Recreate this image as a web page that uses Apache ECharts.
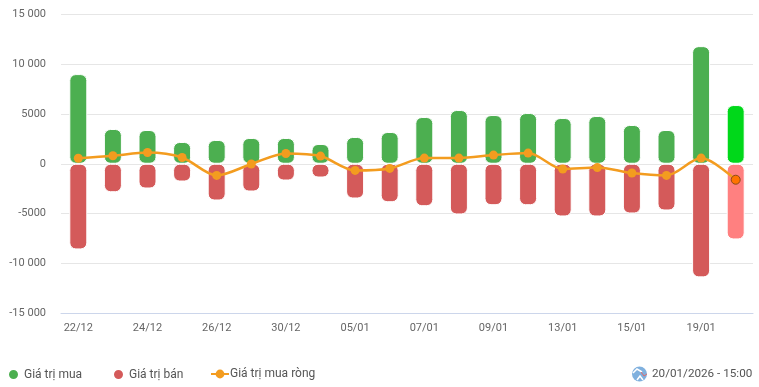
<!DOCTYPE html>
<html><head><meta charset="utf-8">
<style>html,body{margin:0;padding:0;background:#fff}#c{width:759px;height:387px}</style>
<script src="https://cdn.jsdelivr.net/npm/echarts@6/dist/echarts.min.js"></script>
</head><body><div id="c"></div>
<script>
const categories = ['22/12','23/12','24/12','25/12','26/12','29/12','30/12','31/12','05/01','06/01','07/01','08/01','09/01','12/01','13/01','14/01','15/01','16/01','19/01','20/01'];
const buyValues = [8980,3480,3380,2180,2380,2580,2580,1980,2680,3180,4680,5380,4880,5080,4580,4780,3880,3380,11780,5880];
const sellValues = [-8580,-2850,-2480,-1780,-3680,-2780,-1680,-1380,-3480,-3850,-4250,-5080,-4150,-4150,-5280,-5280,-4980,-4680,-11380,-7580];
const netValues = [550,800,1130,630,-1170,-30,1030,770,-670,-470,570,570,870,1070,-530,-370,-930,-1170,570,-1600];
const legendNames = ['Giá trị mua','Giá trị bán','Giá trị mua ròng'];
const stamp = '20/01/2026 - 15:00';

const FONT = 'Roboto';
const last = categories.length - 1;
const fmt = v => {
  const a = Math.abs(v);
  const s = a >= 10000 ? String(a).replace(/(\d)(?=(\d{3})$)/, '$1 ') : String(a);
  return (v < 0 ? '-' : '') + s;
};
const barData = (vals, hi) => vals.map((v, i) => i === last ? {value: v, itemStyle: {color: hi}} : v);
const barBase = {type: 'bar', barWidth: 18, barGap: '-100%', animation: false};
const legendText = {fontFamily: FONT, fontSize: 12, color: '#555'};

const chart = echarts.init(document.getElementById('c'), null, {renderer: 'canvas'});
chart.setOption({
  animation: false,
  grid: {left: 61, right: 6, top: 14, bottom: 73.5, containLabel: false},
  legend: [
    {data: [{name: legendNames[0], icon: 'circle'}], left: 7, top: 368, itemWidth: 11, itemHeight: 11, itemGap: 0, textStyle: legendText, padding: 0},
    {data: [{name: legendNames[1], icon: 'circle'}], left: 112, top: 368, itemWidth: 11, itemHeight: 11, itemGap: 0, textStyle: legendText, padding: 0},
    {data: [{name: legendNames[2]}], left: 210, top: 368, itemWidth: 18, itemHeight: 11, itemGap: 0,
      textStyle: Object.assign({}, legendText, {padding: [2, 0, 0, -4]}), padding: 0}
  ],
  xAxis: {
    type: 'category', data: categories,
    axisTick: {show: false},
    axisLine: {onZero: false, lineStyle: {color: '#ccd6eb', width: 1}},
    axisLabel: {interval: 1, margin: 9, fontFamily: FONT, fontSize: 11, color: '#666'}
  },
  yAxis: {
    type: 'value', min: -15000, max: 15000, interval: 5000,
    axisLine: {show: false}, axisTick: {show: false},
    splitLine: {lineStyle: {color: '#e6e6e6', width: 1}},
    axisLabel: {margin: 15, fontFamily: FONT, fontSize: 11, color: '#666', formatter: fmt}
  },
  series: [
    Object.assign({}, barBase, {name: legendNames[0], data: barData(buyValues, '#00d81a'),
      itemStyle: {color: '#4caf50', borderRadius: 6, borderColor: '#fff', borderWidth: 1}}),
    Object.assign({}, barBase, {name: legendNames[1], data: barData(sellValues, '#ff8080'),
      itemStyle: {color: '#d45a5a', borderRadius: 6, borderColor: '#fff', borderWidth: 1}}),
    {name: legendNames[2], type: 'line', smooth: 0.3, z: 5,
      symbol: 'circle', symbolSize: 9, showAllSymbol: true,
      lineStyle: {color: '#f39c1f', width: 2.5},
      itemStyle: {color: '#f39c1f'},
      data: netValues.map((v, i) => i === last
        ? {value: v, symbolSize: 9, itemStyle: {color: '#ff7300', borderColor: '#8a4a1a', borderWidth: 1}}
        : v)}
  ],
  graphic: [
    {type: 'circle', shape: {cx: 639.5, cy: 374, r: 7.5}, style: {fill: '#7fb0de'}},
    {type: 'polyline', shape: {points: [[633,373],[637,369],[642,372]]}, style: {stroke: '#fff', lineWidth: 1.5, fill: null}},
    {type: 'polyline', shape: {points: [[637,380],[640,376],[643,380]]}, style: {stroke: '#fff', lineWidth: 1.5, fill: null}},
    {type: 'polyline', shape: {points: [[641,372],[644,376],[647,374]]}, style: {stroke: '#e06a6a', lineWidth: 1, fill: null}},
    {type: 'text', x: 652, y: 368, style: {text: stamp, fontFamily: FONT, fontSize: 11.7, fill: '#555'}}
  ]
});
</script></body></html>
